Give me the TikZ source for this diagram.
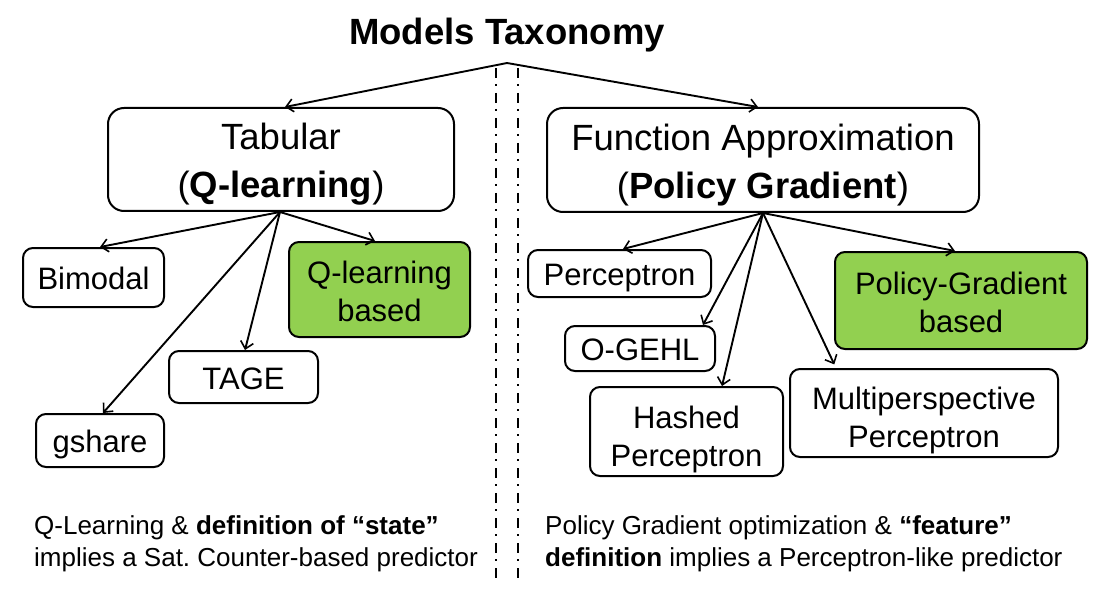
\documentclass[tikz,border=0pt]{standalone}
\usepackage{fontspec}
\setmainfont{Liberation Sans}
\usetikzlibrary{arrows.meta}
\definecolor{boxgreen}{HTML}{92D050}
\begin{document}
\begin{tikzpicture}[x=1pt,y=-1pt,
  basebox/.style={draw=black, line width=2pt, rounded corners=10pt, inner sep=0pt, align=center, font=\fontsize{31}{38}\selectfont},
  box/.style={basebox, text height=32pt, text depth=8pt},
  twobox/.style={basebox, text depth=0pt, text height=#1},
  bigbox/.style={basebox, rounded corners=16pt, font=\fontsize{36.5}{48}\selectfont},
  arr/.style={line width=1.9pt, -{Straight Barb[length=7pt,width=13pt,line width=1.6pt]}},
  sep/.style={line width=1.9pt, dash pattern=on 10pt off 6pt on 2pt off 7pt},
  note/.style={align=left, inner sep=0pt, font=\fontsize{26}{32}\selectfont}
]
\useasboundingbox (0,0) rectangle (1116,596);

% title
\node[inner sep=0pt, font=\fontsize{36.5}{40}\selectfont\bfseries] (title) at (507,35) {Models Taxonomy};
\coordinate (apex) at (507,63);

% separators
\coordinate (s1a) at (496,68);
\coordinate (s1b) at (496,582);
\coordinate (s2a) at (518,68);
\coordinate (s2b) at (518,582);
\draw[sep] (s1a) -- (s1b);
\draw[sep] (s2a) -- (s2b);

% top level
\node[bigbox, minimum width=346pt, minimum height=103pt] (tab) at (281,159.5) {\rule{0pt}{36pt}Tabular\\(\textbf{Q-learning})};
\node[bigbox, minimum width=432pt, minimum height=104pt] (fa) at (763,160) {\rule{0pt}{36pt}Function Approximation\\(\textbf{Policy Gradient})};

\draw[arr] (apex) -- (tab.north -| 285,0);
\draw[arr] (apex) -- (fa.north -| 758,0);

% left leaves
\node[box, minimum width=141pt, minimum height=59pt] (bim) at (93.5,277.5) {Bimodal};
\node[twobox=63pt, fill=boxgreen, minimum width=181pt, minimum height=95pt] (qlb) at (379.5,289.5) {Q-learning\\based};
\node[box, minimum width=149pt, minimum height=52pt] (tage) at (243.5,377) {TAGE};
\node[box, minimum width=128pt, minimum height=53pt] (gsh) at (100,440.5) {gshare};

\coordinate (tabb) at (tab.south -| 280,0);
\draw[arr] (tabb) -- (bim.north -| 100,0);
\draw[arr] (tabb) -- (qlb.north -| 375,0);
\draw[arr] (tabb) -- (tage.north -| 245,0);
\draw[arr] (tabb) -- (gsh.north -| 103,0);

% right leaves
\node[box, minimum width=183pt, minimum height=47pt] (perc) at (619.5,273.5) {Perceptron};
\node[box, minimum width=150pt, minimum height=45pt] (ogehl) at (640,348.5) {O-GEHL};
\node[twobox=69pt, minimum width=193pt, minimum height=89pt] (hash) at (686.5,431.5) {Hashed\\Perceptron};
\node[twobox=68pt, minimum width=268pt, minimum height=88pt] (multi) at (924,413) {Multiperspective\\Perceptron};
\node[twobox=63pt, fill=boxgreen, minimum width=252pt, minimum height=97pt] (pgb) at (961,300.5) {Policy-Gradient\\based};

\coordinate (fab) at (fa.south -| 763,0);
\draw[arr] (fab) -- (perc.north -| 623,0);
\draw[arr] (fab) -- (ogehl.north -| 703,0);
\draw[arr] (fab) -- (hash.north -| 722,0);
\draw[arr, shorten >=4pt] (fab) -- (multi.north -| 836,0);
\draw[arr] (fab) -- (pgb.north -| 955,0);

% notes
\node[note, anchor=north west] (nl) at (34,515) {Q-Learning \& \textbf{definition of “state”}\\implies a Sat.\ Counter-based predictor};
\node[note, anchor=north west] (nr) at (545,515) {Policy Gradient optimization \& \textbf{“feature”}\\\textbf{definition} implies a Perceptron-like predictor};
\end{tikzpicture}
\end{document}
